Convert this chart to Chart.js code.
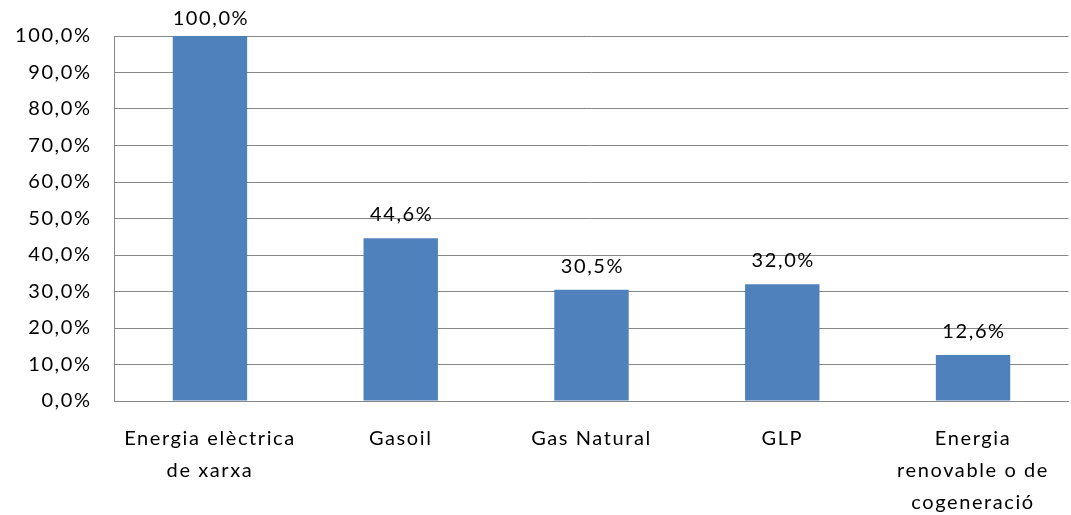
<!DOCTYPE html>
<html>
<head>
<meta charset="utf-8">
<script src="https://cdn.jsdelivr.net/npm/chart.js@4/dist/chart.umd.min.js"></script>
<style>
  html, body { margin: 0; padding: 0; background: #fff; overflow: hidden; }
  #wrap { width: 1071px; height: 515px; }
</style>
</head>
<body>
<div id="wrap"><canvas id="chart"></canvas></div>
<script>
const categories = [
  ['Energia elèctrica', 'de xarxa'],
  'Gasoil',
  'Gas Natural',
  'GLP',
  ['Energia', 'renovable o de', 'cogeneració']
];
const values = [100.0, 44.6, 30.5, 32.0, 12.6];

function pct(v) {
  return v.toFixed(1).replace('.', ',') + '%';
}

// wider letter spacing, like the original's rendering
const spacing = {
  id: 'spacing',
  beforeUpdate(chart) { chart.ctx.letterSpacing = '1.6px'; },
  beforeDraw(chart) { chart.ctx.letterSpacing = '1.6px'; }
};

// draws the value above each bar
const barLabels = {
  id: 'barLabels',
  afterDatasetsDraw(chart) {
    const ctx = chart.ctx;
    const meta = chart.getDatasetMeta(0);
    ctx.save();
    ctx.font = '20px Lato, "Liberation Sans", sans-serif';
    ctx.fillStyle = '#000';
    ctx.textAlign = 'center';
    ctx.textBaseline = 'alphabetic';
    meta.data.forEach(function(bar, i) {
      const y = Math.max(bar.y - 17, 25);
      ctx.fillText(pct(values[i]), bar.x + 1, y);
    });
    ctx.restore();
  }
};

Chart.defaults.font.family = 'Lato, "Liberation Sans", sans-serif';
Chart.defaults.font.size = 20;
Chart.defaults.color = '#000';

new Chart(document.getElementById('chart'), {
  type: 'bar',
  data: {
    labels: categories,
    datasets: [{
      data: values,
      backgroundColor: '#4F81BD',
      borderWidth: 0,
      barPercentage: 0.39,
      categoryPercentage: 1.0
    }]
  },
  options: {
    responsive: true,
    maintainAspectRatio: false,
    animation: false,
    layout: { padding: { top: 36, right: -9, left: -8, bottom: -26 } },
    plugins: {
      legend: { display: false },
      tooltip: { enabled: false }
    },
    scales: {
      x: {
        grid: { display: false, drawTicks: false },
        border: { color: '#868686', width: 1 },
        ticks: { padding: 22, maxRotation: 0, autoSkip: false, font: { lineHeight: 1.6 } }
      },
      y: {
        min: 0,
        max: 100,
        grid: { color: '#868686', drawTicks: false },
        border: { color: '#868686', width: 1 },
        ticks: {
          stepSize: 10,
          padding: 23,
          callback: function(v) { return pct(v); }
        }
      }
    }
  },
  plugins: [spacing, barLabels]
});
</script>
</body>
</html>
